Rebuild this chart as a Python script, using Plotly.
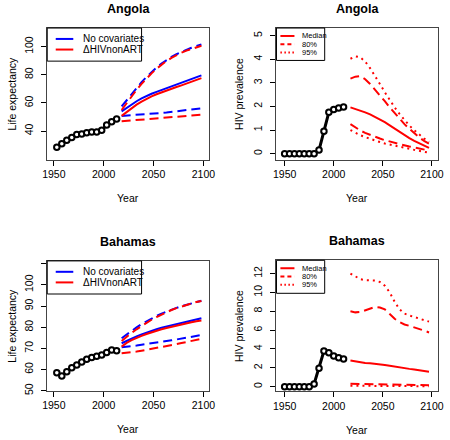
import plotly.graph_objects as go

# ---------------- data ----------------
hist_years = [1953, 1958, 1963, 1968, 1973, 1978, 1983, 1988, 1993, 1998, 2003, 2008, 2013]
proj_years = [2018, 2023, 2028, 2033, 2038, 2043, 2048, 2053, 2058, 2063, 2068, 2073, 2078, 2083, 2088, 2093, 2098]
hiv_hist_years = [1950, 1955, 1960, 1965, 1970, 1975, 1980, 1985, 1990, 1995, 2000, 2005, 2010]
hiv_proj_years = [2017, 2022, 2027, 2032, 2037, 2042, 2047, 2052, 2057, 2062, 2067, 2072, 2077, 2082, 2087, 2092, 2097]

# Angola life expectancy
ang_e0_hist = [28.5, 31.0, 33.5, 35.5, 37.5, 38.0, 38.8, 39.3, 39.3, 40.6, 44.3, 46.7, 48.6]
ang_nocov_med = [54.0, 56.6, 59.0, 61.2, 63.2, 65.0, 66.5, 67.9, 69.2, 70.4, 71.6, 72.8, 74.0, 75.3, 76.6, 78.0, 79.6]
ang_nocov_up = [57.5, 62.0, 66.5, 70.8, 74.8, 78.5, 82.0, 85.2, 88.0, 90.5, 92.7, 94.6, 96.3, 97.8, 99.2, 100.4, 101.5]
ang_nocov_lo = [50.8, 51.0, 51.2, 51.5, 51.8, 52.0, 52.3, 52.6, 52.9, 53.2, 53.6, 54.0, 54.4, 54.8, 55.3, 55.8, 56.2]
ang_hiv_med = [50.8, 53.6, 56.3, 58.8, 61.0, 63.0, 64.7, 66.2, 67.6, 68.9, 70.1, 71.3, 72.5, 73.7, 74.9, 76.2, 77.6]
ang_hiv_up = [55.0, 60.0, 64.8, 69.3, 73.5, 77.4, 81.0, 84.3, 87.2, 89.8, 92.0, 94.0, 95.7, 97.2, 98.5, 99.6, 100.6]
ang_hiv_lo = [47.0, 47.3, 47.6, 47.9, 48.2, 48.5, 48.9, 49.3, 49.6, 49.9, 50.2, 50.5, 50.8, 51.0, 51.2, 51.4, 51.6]

# Angola HIV prevalence
ang_prev_hist = [0, 0, 0, 0, 0, 0, 0, 0.15, 0.95, 1.75, 1.87, 1.93, 1.98]
ang_prev_med = [1.96, 1.90, 1.83, 1.75, 1.66, 1.56, 1.45, 1.33, 1.20, 1.06, 0.92, 0.79, 0.66, 0.54, 0.43, 0.33, 0.24]
ang_prev_80u = [3.18, 3.26, 3.28, 3.15, 2.95, 2.72, 2.47, 2.22, 1.96, 1.71, 1.47, 1.25, 1.05, 0.86, 0.69, 0.54, 0.42]
ang_prev_80l = [1.25, 1.10, 0.98, 0.88, 0.79, 0.71, 0.64, 0.57, 0.51, 0.45, 0.40, 0.35, 0.30, 0.26, 0.21, 0.17, 0.13]
ang_prev_95u = [4.02, 4.12, 4.08, 3.90, 3.62, 3.30, 2.95, 2.60, 2.27, 1.96, 1.68, 1.42, 1.19, 0.99, 0.81, 0.64, 0.50]
ang_prev_95l = [1.00, 0.88, 0.78, 0.70, 0.62, 0.55, 0.49, 0.43, 0.38, 0.33, 0.28, 0.24, 0.20, 0.16, 0.12, 0.08, 0.04]

# Bahamas life expectancy
bah_e0_hist = [58.5, 56.9, 59.0, 60.8, 62.2, 63.6, 64.9, 65.7, 66.3, 66.9, 68.0, 69.2, 68.9]
bah_nocov_med = [72.4, 73.6, 74.7, 75.7, 76.6, 77.5, 78.3, 79.0, 79.7, 80.3, 80.9, 81.5, 82.1, 82.6, 83.2, 83.7, 84.2]
bah_nocov_up = [74.8, 76.6, 78.3, 79.9, 81.4, 82.8, 84.1, 85.3, 86.4, 87.4, 88.3, 89.1, 89.9, 90.6, 91.3, 91.9, 92.5]
bah_nocov_lo = [70.5, 70.7, 71.0, 71.3, 71.7, 72.0, 72.4, 72.7, 73.0, 73.4, 73.8, 74.2, 74.6, 75.0, 75.5, 75.9, 76.3]
bah_hiv_med = [70.8, 72.6, 73.9, 75.0, 75.9, 76.8, 77.6, 78.3, 79.0, 79.6, 80.2, 80.8, 81.3, 81.8, 82.3, 82.8, 83.2]
bah_hiv_up = [73.5, 75.5, 77.3, 79.0, 80.6, 82.1, 83.5, 84.8, 86.0, 87.1, 88.1, 89.0, 89.8, 90.6, 91.3, 91.9, 92.4]
bah_hiv_lo = [67.7, 67.9, 68.2, 68.5, 68.9, 69.3, 69.8, 70.2, 70.6, 71.0, 71.5, 72.0, 72.5, 73.0, 73.5, 74.0, 74.5]

# Bahamas HIV prevalence
bah_prev_hist = [0, 0, 0, 0, 0, 0, 0.28, 1.95, 3.78, 3.60, 3.25, 3.07, 2.93]
bah_prev_med = [2.78, 2.68, 2.58, 2.52, 2.48, 2.44, 2.38, 2.30, 2.22, 2.12, 2.04, 1.96, 1.89, 1.82, 1.75, 1.67, 1.58]
bah_prev_80u = [8.0, 7.88, 7.92, 8.1, 8.3, 8.45, 8.4, 8.2, 7.7, 7.2, 6.85, 6.6, 6.45, 6.3, 6.1, 5.95, 5.75]
bah_prev_80l = [0.30, 0.29, 0.28, 0.28, 0.27, 0.26, 0.25, 0.24, 0.23, 0.22, 0.21, 0.20, 0.19, 0.18, 0.18, 0.17, 0.16]
bah_prev_95u = [12.0, 11.7, 11.4, 11.3, 11.3, 11.25, 11.1, 10.7, 10.0, 9.0, 8.2, 7.75, 7.55, 7.4, 7.25, 7.1, 6.9]
bah_prev_95l = [0.10, 0.10, 0.09, 0.09, 0.08, 0.08, 0.08, 0.07, 0.07, 0.07, 0.06, 0.06, 0.06, 0.05, 0.05, 0.05, 0.05]

titles = ["Angola", "Angola", "Bahamas", "Bahamas"]
xticks = [1950, 2000, 2050, 2100]

# ---------------- style ----------------
W, H = 450, 440
FONT = "Liberation Sans, Arial, Helvetica, sans-serif"
BLUE, RED = "#0000FF", "#FF0000"
DASH = "9px,5px"
DOT = "2px,4px"
LW = 2.0

def px(x):
    return x / W

def py(y):
    return 1 - y / H

# panel boxes (pixel coords: left, right, top, bottom)
boxes = {
    1: (43.3, 209.3, 28.3, 161.0),
    2: (278.3, 444.3, 28.3, 161.0),
    3: (43.3, 209.3, 263.3, 394.3),
    4: (278.3, 444.3, 262.7, 395.0),
}

fig = go.Figure()

def hist_trace(x, y, n):
    fig.add_trace(go.Scatter(
        x=x, y=y, mode="lines+markers", xaxis=f"x{n}", yaxis=f"y{n}",
        line=dict(color="black", width=3),
        marker=dict(symbol="circle", size=5.5, color="white", line=dict(color="black", width=2)),
        showlegend=False, cliponaxis=False))

def line_trace(x, y, n, color, dash):
    fig.add_trace(go.Scatter(
        x=x, y=y, mode="lines", xaxis=f"x{n}", yaxis=f"y{n}",
        line=dict(color=color, width=LW, dash=dash), showlegend=False))

# Panel 1: Angola e0
for ys, c, d in [(ang_nocov_up, BLUE, DASH), (ang_nocov_lo, BLUE, DASH), (ang_nocov_med, BLUE, "solid"),
                 (ang_hiv_up, RED, DASH), (ang_hiv_lo, RED, DASH), (ang_hiv_med, RED, "solid")]:
    line_trace(proj_years, ys, 1, c, d)
hist_trace(hist_years, ang_e0_hist, 1)

# Panel 2: Angola prevalence
for ys, d in [(ang_prev_95u, DOT), (ang_prev_95l, DOT), (ang_prev_80u, DASH), (ang_prev_80l, DASH), (ang_prev_med, "solid")]:
    line_trace(hiv_proj_years, ys, 2, RED, d)
hist_trace(hiv_hist_years, ang_prev_hist, 2)

# Panel 3: Bahamas e0
for ys, c, d in [(bah_nocov_up, BLUE, DASH), (bah_nocov_lo, BLUE, DASH), (bah_nocov_med, BLUE, "solid"),
                 (bah_hiv_up, RED, DASH), (bah_hiv_lo, RED, DASH), (bah_hiv_med, RED, "solid")]:
    line_trace(proj_years, ys, 3, c, d)
hist_trace(hist_years, bah_e0_hist, 3)

# Panel 4: Bahamas prevalence
for ys, d in [(bah_prev_95u, DOT), (bah_prev_95l, DOT), (bah_prev_80u, DASH), (bah_prev_80l, DASH), (bah_prev_med, "solid")]:
    line_trace(hiv_proj_years, ys, 4, RED, d)
hist_trace(hiv_hist_years, bah_prev_hist, 4)

xranges = {1: [1943.4, 2105.8], 2: [1941.7, 2106.6], 3: [1943.4, 2105.8], 4: [1941.7, 2106.6]}
yranges = {1: [19.8, 113.2], 2: [-0.25, 5.32], 3: [50, 111.3], 4: [-0.5, 13.4]}
yticks = {
    1: ([40, 60, 80, 100], ["40", "60", "80", "100"]),
    2: ([0, 1, 2, 3, 4, 5], ["0", "1", "2", "3", "4", "5"]),
    3: ([50, 60, 70, 80, 90, 100, 110], ["50", "60", "70", "80", "90", "100", ""]),
    4: ([0, 2, 4, 6, 8, 10, 12], ["0", "2", "4", "6", "8", "10", "12"]),
}

TICKFONT = dict(family=FONT, size=10.5, color="black")
layout = dict(
    width=W, height=H, margin=dict(l=0, r=0, t=0, b=0),
    paper_bgcolor="white", plot_bgcolor="white", showlegend=False,
    font=dict(family=FONT, color="black"),
)
for n, (l, r, t, b) in boxes.items():
    sfx = "" if n == 1 else str(n)
    layout["xaxis" + sfx] = dict(
        domain=[px(l), px(r)], range=xranges[n], anchor=f"y{n}",
        tickvals=xticks, ticks="outside", ticklen=5, tickwidth=1, tickcolor="black",
        showline=True, linecolor="#444", linewidth=1, mirror=True, showgrid=False,
        zeroline=False, tickfont=TICKFONT, fixedrange=True)
    tv, tt = yticks[n]
    layout["yaxis" + sfx] = dict(
        domain=[py(b), py(t)], range=yranges[n], anchor=f"x{n}",
        tickvals=tv, ticktext=tt, ticks="outside", ticklen=5, tickwidth=1, tickcolor="black",
        tickangle=-90, ticklabelstandoff=4,
        showline=True, linecolor="#444", linewidth=1, mirror=True, showgrid=False,
        zeroline=False, tickfont=TICKFONT, fixedrange=True)
fig.update_layout(**layout)

annotations = []
shapes = []

def text(x, y, s, size=10.5, bold=False, angle=0, xanchor="center"):
    annotations.append(dict(
        x=px(x), y=py(y), xref="paper", yref="paper", text=f"<b>{s}</b>" if bold else s,
        showarrow=False, textangle=angle, xanchor=xanchor, yanchor="middle",
        font=dict(family=FONT, size=size, color="black")))

# titles and axis labels
for n, (l, r, t, b) in boxes.items():
    cx = (l + r) / 2
    text(cx, t - 19.5, titles[n - 1], size=12.5, bold=True)
    text(cx, b + 38.5, "Year", size=10.5)
text(7, (28.3 + 161) / 2, "Life expectancy", angle=-90)
text(7, (263.3 + 394.3) / 2, "Life expectancy", angle=-90)
text(240, (28.3 + 161) / 2, "HIV prevalence", angle=-90)
text(240, (262.7 + 395) / 2, "HIV prevalence", angle=-90)

def legend_box(x0, x1, y0, y1):
    shapes.append(dict(type="rect", xref="paper", yref="paper", x0=px(x0), x1=px(x1), y0=py(y1), y1=py(y0),
                       line=dict(color="black", width=1), fillcolor="white", layer="above"))

def legend_line(x0, x1, y, color, dash):
    shapes.append(dict(type="line", xref="paper", yref="paper", x0=px(x0), x1=px(x1), y0=py(y), y1=py(y),
                       line=dict(color=color, width=LW, dash=dash), layer="above"))

# e0 legends
for (top, bot) in [(28.3, 61.7), (263.3, 296.7)]:
    legend_box(43.3, 140, top, bot)
    y1 = top + 11
    y2 = top + 21.7
    legend_line(52, 70, y1, BLUE, "solid")
    legend_line(52, 70, y2, RED, "solid")
    text(77.5, y1, "No covariates", size=10, xanchor="left")
    text(77.5, y2, "ΔHIVnonART", size=10, xanchor="left")

# prevalence legends
for (top, bot) in [(28.3, 61.0), (262.7, 296.0)]:
    legend_box(278.3, 327.7, top, bot)
    for i, (lab, d) in enumerate([("Median", "solid"), ("80%", "4px,3px"), ("95%", "1.5px,2.5px")]):
        yy = top + 8 + 8.3 * i
        legend_line(282.3, 296.7, yy, RED, d)
        text(302.5, yy, lab, size=7.5, xanchor="left")

fig.update_layout(annotations=annotations, shapes=shapes)
fig.write_html("out.html", config={"displayModeBar": False},
               post_script="document.body.style.margin='0px';document.body.style.padding='0px';")
